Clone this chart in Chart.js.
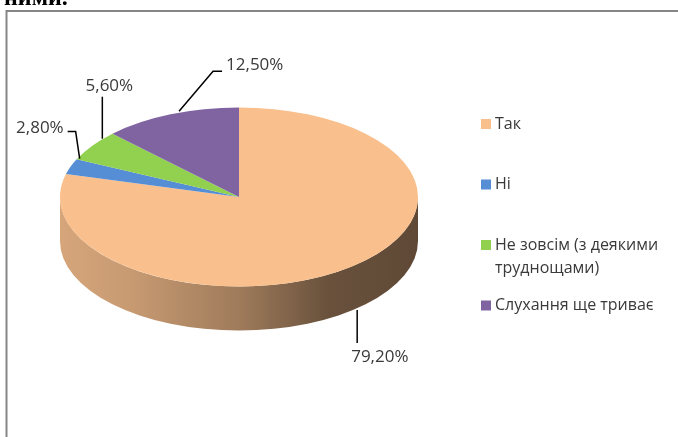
<!DOCTYPE html>
<html>
<head>
<meta charset="utf-8">
<script src="https://cdn.jsdelivr.net/npm/chart.js@4.4.0/dist/chart.umd.min.js"></script>
<style>
html,body{margin:0;padding:0;background:#fff;}
canvas{display:block;}
</style>
</head>
<body>
<canvas id="c" width="678" height="437"></canvas>
<script>
// ---- data ----
const categories = ['Так', 'Ні', 'Не зовсім (з деякими труднощами)', 'Слухання ще триває'];
const shares = [79.2, 2.8, 5.6, 12.5];
const shareLabels = ['79,20%', '2,80%', '5,60%', '12,50%'];
const sliceColors = ['#F9C08E', '#558ED5', '#92D050', '#8064A2'];
const headerText = 'ними.';

// ---- style / layout ----
const TILT = 0.5;          // vertical squash of the pie
const DEPTH = 44;          // height of the 3D side
const CENTER_Y = 197;      // screen y of pie centre
const labelFont = '17px "Open Sans"';
const legendFont = '16px "Open Sans"';
const textColor = '#3a3a3a';
// leader line offsets relative to the anchor point on the rim
const leaderLayout = [
  {bottom: true, pts: [[9,-2],[9,31]], text: [3,45], align: 'left'},
  {bottom: false, pts: [[9,-8],[5,-35],[-3,-35]], text: [-7,-38], align: 'right'},
  {bottom: false, pts: [[10,-7],[10,-49]], text: [17,-60], align: 'center'},
  {bottom: false, pts: [[8.5,-3],[42.5,-43],[51.5,-43]], text: [55.5,-49], align: 'left'}
];

function shade(hex, f) {
  const n = parseInt(hex.slice(1), 16);
  const r = Math.round(((n >> 16) & 255) * f), g = Math.round(((n >> 8) & 255) * f), b = Math.round((n & 255) * f);
  return `rgb(${r},${g},${b})`;
}

const pie3d = {
  id: 'pie3d',
  beforeDraw(chart) {
    const ctx = chart.ctx;
    ctx.save();
    ctx.fillStyle = '#fff';
    ctx.fillRect(0, 0, chart.width, chart.height);
    // header text cut off at the top
    ctx.fillStyle = '#000';
    ctx.font = 'bold 24px "Liberation Serif"';
    ctx.textBaseline = 'alphabetic';
    ctx.textAlign = 'left';
    ctx.fillText(headerText, 4, 5);
    // frame
    ctx.strokeStyle = '#868686';
    ctx.lineWidth = 2;
    ctx.beginPath();
    ctx.moveTo(6.5, chart.height + 2);
    ctx.lineTo(6.5, 11);
    ctx.lineTo(chart.width + 2, 11);
    ctx.stroke();
    ctx.restore();
  },
  beforeDatasetsDraw(chart) {
    const ctx = chart.ctx;
    const arcs = chart.getDatasetMeta(0).data;
    if (!arcs.length) return;
    const cx = arcs[0].x, cy = arcs[0].y, R = arcs[0].outerRadius;
    // sides
    arcs.forEach((arc, i) => {
      const a0 = Math.max(arc.startAngle, 0), a1 = Math.min(arc.endAngle, Math.PI);
      if (a1 <= a0) return;
      const g = ctx.createLinearGradient(cx - R, 0, cx + R, 0);
      const col = sliceColors[i];
      g.addColorStop(0, shade(col, 0.86));
      g.addColorStop(0.2, shade(col, 0.80));
      g.addColorStop(0.5, shade(col, 0.64));
      g.addColorStop(0.75, shade(col, 0.42));
      g.addColorStop(1, shade(col, 0.38));
      ctx.save();
      ctx.beginPath();
      ctx.ellipse(cx, CENTER_Y, R, R * TILT, 0, a0, a1, false);
      ctx.ellipse(cx, CENTER_Y + DEPTH, R, R * TILT, 0, a1, a0, true);
      ctx.closePath();
      ctx.fillStyle = g;
      ctx.fill();
      ctx.restore();
    });
    ctx.save();
    ctx.translate(0, CENTER_Y);
    ctx.scale(1, TILT);
    ctx.translate(0, -cy);
  },
  afterDatasetsDraw(chart) {
    const ctx = chart.ctx;
    ctx.restore();
    const arcs = chart.getDatasetMeta(0).data;
    if (!arcs.length) return;
    const cx = arcs[0].x, R = arcs[0].outerRadius;
    // data labels with leader lines
    ctx.save();
    arcs.forEach((arc, i) => {
      const L = leaderLayout[i];
      const mid = (arc.startAngle + arc.endAngle) / 2;
      const ax = cx + R * Math.cos(mid);
      const ay = CENTER_Y + R * TILT * Math.sin(mid) + (L.bottom ? DEPTH : 0);
      ctx.strokeStyle = '#000';
      ctx.lineWidth = 1.5;
      ctx.beginPath();
      L.pts.forEach((p, j) => {
        if (j === 0) ctx.moveTo(ax + p[0], ay + p[1]);
        else ctx.lineTo(ax + p[0], ay + p[1]);
      });
      ctx.stroke();
      ctx.fillStyle = textColor;
      ctx.font = labelFont;
      ctx.textAlign = L.align;
      ctx.textBaseline = 'middle';
      ctx.fillText(shareLabels[i], ax + L.text[0], ay + L.text[1]);
    });
    // legend
    ctx.font = legendFont;
    ctx.textAlign = 'left';
    ctx.textBaseline = 'middle';
    const lx = 481, tx = 495, maxW = 178, lineH = 23;
    let y = 124;
    categories.forEach((name, i) => {
      ctx.fillStyle = sliceColors[i];
      ctx.fillRect(lx, y - 5, 10, 10);
      // wrap words
      const words = name.split(' ');
      const lines = [];
      let cur = '';
      words.forEach(w => {
        const t = cur ? cur + ' ' + w : w;
        if (ctx.measureText(t).width > maxW && cur) { lines.push(cur); cur = w; }
        else cur = t;
      });
      lines.push(cur);
      ctx.fillStyle = textColor;
      lines.forEach((ln, j) => ctx.fillText(ln, tx, y + j * lineH));
      y += 60.5;
    });
    ctx.restore();
  }
};

new Chart(document.getElementById('c'), {
  type: 'pie',
  data: {
    labels: categories,
    datasets: [{data: shares, backgroundColor: sliceColors, borderWidth: 0}]
  },
  options: {
    responsive: false,
    animation: false,
    layout: {padding: {left: 60, right: 260, top: 40, bottom: 39}},
    plugins: {legend: {display: false}, tooltip: {enabled: false}}
  },
  plugins: [pie3d]
});
</script>
</body>
</html>
